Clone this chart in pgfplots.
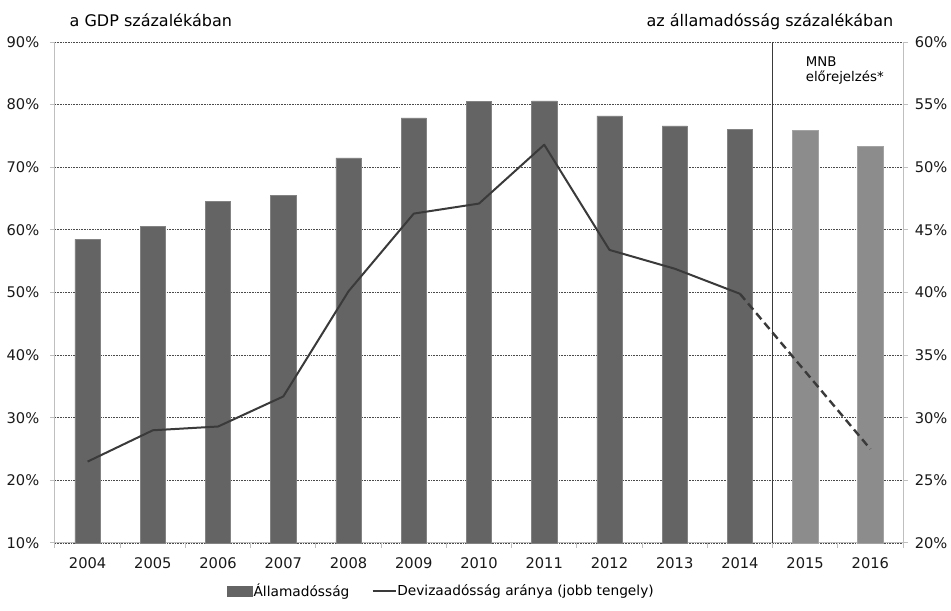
\documentclass[border=0pt]{standalone}
\usepackage{fontspec}
\setmainfont{DejaVu Sans}
\usepackage{pgfplots}
\pgfplotsset{compat=1.18}

\definecolor{bardark}{HTML}{646464}
\definecolor{barlight}{HTML}{8C8C8C}
\definecolor{linec}{HTML}{3A3A3A}
\definecolor{axisc}{HTML}{BFBFBF}
\definecolor{gridc}{HTML}{4A4A4A}

\pgfplotsset{
  common/.style={
    scale only axis, width=636pt, height=375.75pt,
    xmin=-0.5, xmax=12.5,
    tick align=outside,
    major tick length=0pt, minor tick length=3.75pt,
    axis line style={draw=axisc, line width=0.75pt},
    every tick/.style={draw=axisc, line width=0.75pt},
    tick label style={font=\fontsize{11}{13}\selectfont, text=black!90},
    /pgf/number format/assume math mode=true,
    clip=false,
  }
}

\begin{document}
\begin{tikzpicture}
\path[use as bounding box] (-41.25pt,-51pt) rectangle (672pt,407.25pt);

% bal tengely: államadósság (GDP %)
\begin{axis}[common,
  axis x line*=bottom, axis y line*=left,
  ymin=10, ymax=90, ytick={10,20,...,90}, minor ytick={10,20,...,90},
  yticklabel={\pgfmathprintnumber{\tick}\%},
  yticklabel style={xshift=-8.3pt},
  xtick={0,...,12},
  xticklabels={2004,2005,2006,2007,2008,2009,2010,2011,2012,2013,2014,2015,2016},
  minor xtick={-0.5,0.5,...,12.5},
  xticklabel style={yshift=-7.8pt},
  ymajorgrids,
  major grid style={draw=gridc, line width=0.6pt, dash pattern=on 0.6pt off 0.6pt},
  ybar, bar width=19pt, bar shift=0pt,
]
\addplot[fill=bardark, draw=bardark!80!white, line width=0.4pt] coordinates {
  (0,58.5) (1,60.5) (2,64.6) (3,65.5) (4,71.5) (5,77.9)
  (6,80.5) (7,80.6) (8,78.2) (9,76.6) (10,76.1)
};
\addplot[fill=barlight, draw=barlight!80!white, line width=0.4pt] coordinates {(11,75.9) (12,73.3)};

\node[anchor=base west, xshift=7.5pt, yshift=12pt, font=\fontsize{12}{14}\selectfont]
  at (rel axis cs:0,1) {a GDP százalékában};
\node[anchor=base east, xshift=-3.75pt, yshift=12pt, font=\fontsize{12}{14}\selectfont]
  at (rel axis cs:1,1) {az államadósság százalékában};
\end{axis}

% jobb tengely: devizaadósság aránya
\begin{axis}[common,
  axis y line*=right, axis x line=none,
  ymin=20, ymax=60, ytick={20,25,...,60}, minor ytick={20,25,...,60},
  yticklabel={\pgfmathprintnumber{\tick}\%},
  yticklabel style={xshift=5.3pt},
  legend columns=2,
  legend style={draw=none, fill=none, inner sep=0pt,
    at={(0.2028,-0.0958)}, anchor=west,
    font=\fontsize{10.3}{12}\selectfont,
    nodes={inner xsep=0.6pt},
    /tikz/every even column/.style={column sep=16pt}},
]
\addlegendimage{legend image code/.code={\fill[bardark] (0pt,-3.75pt) rectangle (18.75pt,3.75pt);}}
\addlegendentry{Államadósság}
\addplot[linec, line width=1.5pt, line join=round,
  legend image code/.code={\draw[linec, line width=1.5pt] (0pt,0pt) -- (17.25pt,0pt);}]
  coordinates {
  (0,26.5) (1,29.0) (2,29.3) (3,31.7) (4,40.1) (5,46.3)
  (6,47.1) (7,51.8) (8,43.4) (9,41.9) (10,39.9)
};
\addlegendentry{Devizaadósság aránya (jobb tengely)}
\addplot[linec, line width=1.8pt, dash pattern=on 6pt off 3.5pt, forget plot]
  coordinates {(10,39.9) (11,33.7) (12,27.5)};

\draw[linec, line width=1.1pt] (axis cs:10.5,20) -- (axis cs:10.5,60);
\node[anchor=base west, xshift=24.75pt, yshift=-18pt, inner sep=0pt, font=\fontsize{10}{12}\selectfont]
  at (axis cs:10.5,60) {MNB};
\node[anchor=base west, xshift=24.75pt, yshift=-29.8pt, inner sep=0pt, font=\fontsize{10}{12}\selectfont]
  at (axis cs:10.5,60) {előrejelzés*};
\end{axis}
\end{tikzpicture}
\end{document}
